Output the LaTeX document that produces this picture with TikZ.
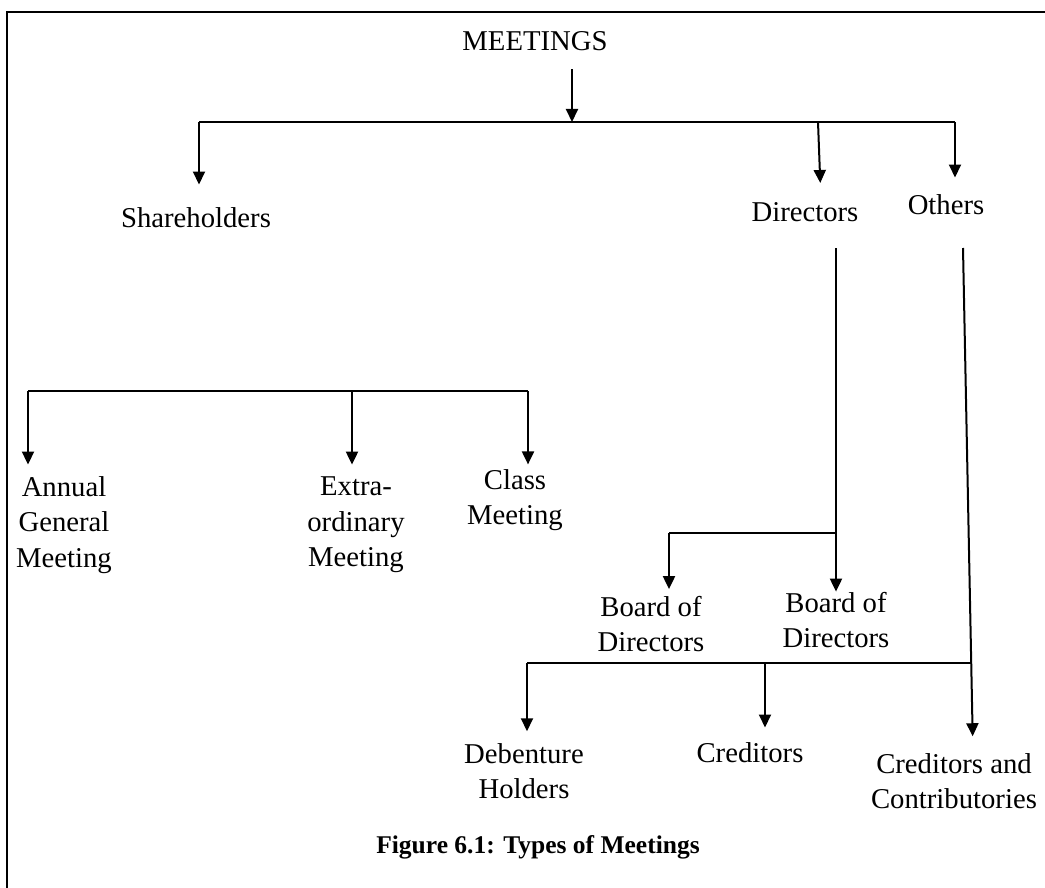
\documentclass[tikz,border=0pt]{standalone}
\usepackage{fontspec}
\setmainfont{Liberation Serif}
\usetikzlibrary{arrows.meta, calc}

\begin{document}
\begin{tikzpicture}[
	x=0.5pt, y=-0.5pt,
	>={Triangle[width=6pt, length=6.5pt]},
	% Styles for the text of the chart
	labeltext/.style={inner sep=0pt, align=center, font=\fontsize{14.35}{17.75}\selectfont},
	captiontext/.style={inner sep=0pt, font=\fontsize{12.75}{15}\selectfont\bfseries},
	% Styles for the connectors
	branch/.style={line width=1pt, black},
	arrowline/.style={branch, ->}
	]
	\useasboundingbox (0,0) rectangle (1045,888);
	
	% Frame round the figure
	\draw[line width=1.35pt] (7,888) -- (7,12) -- (1045,12);
	
	% ==========================================
	% TOP LEVEL
	% ==========================================
	\node[labeltext] (meet) at (535,41) {MEETINGS};
	\node[labeltext] (sh) at (196,218) {Shareholders};
	\node[labeltext] (dir) at (805,212) {Directors};
	\node[labeltext] (oth) at (946,205) {Others};
	
	\coordinate (topjoin) at (572,122);
	\coordinate (shjoin) at (199,122);
	\coordinate (dirjoin) at (818,122);
	\coordinate (othjoin) at (955,122);
	
	\draw[arrowline] ($(topjoin |- meet.south)+(0,18)$) -- (topjoin);
	\draw[branch] (shjoin) -- (othjoin);
	\draw[arrowline, shorten >=11.5pt] (shjoin) -- (shjoin |- sh.north);
	\draw[arrowline, shorten >=9.5pt] (dirjoin) -- ($(dir.north)+(16,0)$);
	\draw[arrowline, shorten >=8.5pt] (othjoin) -- (othjoin |- oth.north);
	
	% ==========================================
	% SHAREHOLDERS MEETINGS
	% ==========================================
	\node[labeltext] (agm) at (64,525) {Annual\\General\\Meeting};
	\node[labeltext] (egm) at (356,525) {Extra-\\ordinary\\Meeting};
	\node[labeltext] (cls) at (515,500) {Class\\Meeting};
	
	\coordinate (agmjoin) at (28,391);
	\coordinate (egmjoin) at (352,391);
	\coordinate (clsjoin) at (528,391);
	
	\draw[branch] (agmjoin) -- (clsjoin);
	\draw[arrowline, shorten >=5.75pt] (agmjoin) -- (agmjoin |- agm.north);
	\draw[arrowline, shorten >=6pt] (egmjoin) -- (egmjoin |- egm.north);
	\draw[arrowline, shorten >=2.2pt] (clsjoin) -- (clsjoin |- cls.north);
	
	% ==========================================
	% DIRECTORS MEETINGS
	% ==========================================
	\node[labeltext] (bod1) at (651,624) {Board of\\Directors};
	\node[labeltext] (bod2) at (836,620) {Board of\\Directors};
	
	\coordinate (dirdown) at (836,248);
	\coordinate (bodjoin) at (836,533);
	\coordinate (bodleft) at (669,533);
	
	\draw[arrowline] (dirdown) -- (dirdown |- bod2.north);
	\draw[branch] (bodjoin) -- (bodleft);
	\draw[arrowline, shorten >=3.25pt] (bodleft) -- (bodleft |- bod1.north);
	
	% ==========================================
	% OTHER MEETINGS
	% ==========================================
	\node[labeltext] (deb) at (524,771) {Debenture\\Holders};
	\node[labeltext] (cred) at (750,753) {Creditors};
	\node[labeltext] (cc) at (954,781) {Creditors and\\Contributories};
	
	\coordinate (othdown) at (963,248);
	\coordinate (debjoin) at (527,663);
	\coordinate (credjoin) at (765,663);
	\coordinate (ccjoin) at (971.5,663);
	
	\draw[arrowline, shorten >=8.25pt] (othdown) -- ($(cc.north)+(19,0)$);
	\draw[branch] (debjoin) -- (ccjoin);
	\draw[arrowline, shorten >=5.75pt] (debjoin) -- (debjoin |- deb.north);
	\draw[arrowline, shorten >=7.5pt] (credjoin) -- (credjoin |- cred.north);
	
	% Caption
	\node[captiontext] (cap) at (538,847) {Figure 6.1: Types of Meetings};
	
\end{tikzpicture}
\end{document}
